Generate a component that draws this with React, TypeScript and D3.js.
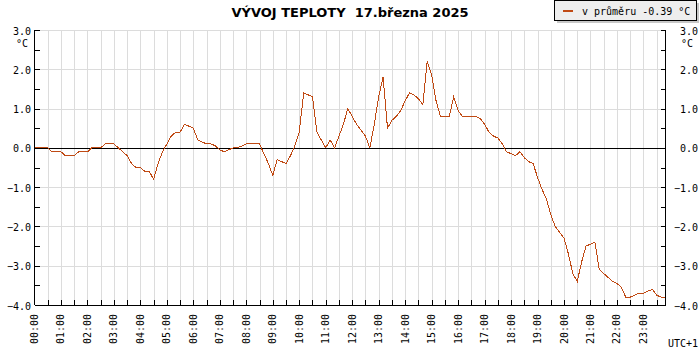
import React from 'react';
import * as d3 from 'd3';

// title / legend texts
const title = 'VÝVOJ TEPLOTY  17.března 2025';
const legendLabel = 'v průměru -0.39 °C';
const unitLabel = '°C';
const tzLabel = 'UTC+1';

// x axis: one label per hour, measurements every 10 minutes
const hourLabels = [
  '00:00', '01:00', '02:00', '03:00', '04:00', '05:00', '06:00', '07:00',
  '08:00', '09:00', '10:00', '11:00', '12:00', '13:00', '14:00', '15:00',
  '16:00', '17:00', '18:00', '19:00', '20:00', '21:00', '22:00', '23:00',
];
const stepMinutes = 10;

// y axis ticks
const yLabels = [3, 2, 1, 0, -1, -2, -3, -4];

// temperature, 00:00 .. 23:50
const temps = [
  0.0, 0.0, 0.0, 0.0, -0.1, -0.1, -0.1, -0.2, -0.2, -0.2, -0.1, -0.1,
  -0.1, 0.0, 0.0, 0.0, 0.1, 0.1, 0.1, 0.0, -0.1, -0.2, -0.4, -0.5,
  -0.5, -0.6, -0.6, -0.8, -0.4, -0.1, 0.1, 0.3, 0.4, 0.4, 0.6, 0.55,
  0.5, 0.2, 0.15, 0.1, 0.1, 0.05, -0.05, -0.1, -0.05, 0.0, 0.0, 0.05,
  0.1, 0.1, 0.1, 0.1, -0.15, -0.4, -0.7, -0.3, -0.35, -0.4, -0.2, 0.05,
  0.4, 1.4, 1.35, 1.3, 0.4, 0.2, 0.0, 0.2, 0.0, 0.3, 0.6, 1.0,
  0.8, 0.6, 0.45, 0.3, 0.0, 0.6, 1.3, 1.8, 0.5, 0.7, 0.8, 0.95,
  1.2, 1.4, 1.35, 1.25, 1.1, 2.2, 1.85, 1.2, 0.8, 0.8, 0.8, 1.3,
  0.95, 0.8, 0.8, 0.8, 0.8, 0.75, 0.6, 0.4, 0.3, 0.25, 0.1, -0.1,
  -0.15, -0.2, -0.1, -0.25, -0.35, -0.4, -0.75, -1.05, -1.3, -1.7, -2.0, -2.15,
  -2.3, -2.7, -3.2, -3.4, -2.9, -2.5, -2.45, -2.4, -3.1, -3.2, -3.3, -3.4,
  -3.45, -3.55, -3.8, -3.8, -3.75, -3.7, -3.7, -3.65, -3.6, -3.75, -3.8, -3.8,
];

const lineColor = '#c04a14';
const gridColor = '#dcdcdc';
const mono = '"DejaVu Sans Mono", monospace';

const App = () => {
  const left = 34.5;
  const right = 665.5;
  const top = 30;
  const bottom = 305;

  const x = d3.scaleLinear()
    .domain([0, (temps.length - 1) * stepMinutes])
    .range([left, right]);
  const y = d3.scaleLinear().domain([-4, 3]).range([bottom, top]);

  const halfHours = d3.range(1, hourLabels.length * 2).map(k => k * 30);
  const halfTicks = d3.range(-4, 3.01, 0.5);

  const line = d3.line<number>()
    .x((_, i) => x(i * stepMinutes))
    .y(d => y(d));

  const px = (v: number) => Math.round(v) + 0.5;

  return (
    <svg width={700} height={350} style={{ position: 'absolute', left: 0, top: 0, background: '#fff' }}>
      {/* grid */}
      <g stroke={gridColor} strokeWidth={1} shapeRendering="crispEdges">
        {halfHours.map(m => (
          <line key={'v' + m} x1={px(x(m))} x2={px(x(m))} y1={top} y2={bottom} />
        ))}
        {yLabels.filter(v => v !== 0 && v !== -4).map(v => (
          <line key={'h' + v} x1={left} x2={right} y1={px(y(v))} y2={px(y(v))} />
        ))}
      </g>

      {/* zero line */}
      <line x1={left} x2={right} y1={px(y(0))} y2={px(y(0))} stroke="#000" shapeRendering="crispEdges" />

      {/* temperature */}
      <path d={line(temps) || ''} fill="none" stroke={lineColor} strokeWidth={1} shapeRendering="crispEdges" />

      {/* axes */}
      <g stroke="#000" strokeWidth={1} shapeRendering="crispEdges">
        <line x1={left} x2={left} y1={top} y2={bottom} />
        <line x1={right} x2={right} y1={top} y2={bottom} />
        <line x1={left} x2={right} y1={px(bottom)} y2={px(bottom)} />
        {halfTicks.map(v => (
          <g key={'t' + v}>
            <line x1={left} x2={left + 5} y1={px(y(v))} y2={px(y(v))} />
            <line x1={right - 5} x2={right} y1={px(y(v))} y2={px(y(v))} />
          </g>
        ))}
        {halfHours.map(m => (
          <line key={'b' + m} x1={px(x(m))} x2={px(x(m))} y1={bottom - 5} y2={bottom} />
        ))}
      </g>

      {/* y labels */}
      <g fontFamily={mono} fontSize={10} fill="#000">
        {yLabels.map(v => (
          <g key={'yl' + v}>
            <text x={31} y={y(v) + 4.5} textAnchor="end">{d3.format('.1f')(v)}</text>
            <text x={698} y={y(v) + 4.5} textAnchor="end">{d3.format('.1f')(v)}</text>
          </g>
        ))}
        <text x={16} y={47}>{unitLabel}</text>
        <text x={681} y={47}>{unitLabel}</text>
        <text x={698} y={347} textAnchor="end">{tzLabel}</text>
        {hourLabels.map((lab, h) => (
          <text
            key={lab}
            transform={`translate(${x(h * 60) + 3.5},314) rotate(-90)`}
            textAnchor="end"
          >{lab}</text>
        ))}
      </g>

      {/* title */}
      <text x={350} y={17} textAnchor="middle" fontFamily='"DejaVu Sans", sans-serif'
        fontWeight="bold" fontSize={13} style={{ whiteSpace: 'pre' }}>{title}</text>

      {/* legend */}
      <g shapeRendering="crispEdges">
        <rect x={556.5} y={2.5} width={142} height={20} fill="#c8c8c8" />
        <rect x={554.5} y={0.5} width={142} height={20} fill="#eeeeee" stroke="#000" />
        <line x1={563} x2={573} y1={11} y2={11} stroke={lineColor} strokeWidth={2} />
      </g>
      <text x={582} y={15} fontFamily={mono} fontSize={10} fill="#000" style={{ whiteSpace: 'pre' }}>{legendLabel}</text>
    </svg>
  );
};

export default App;
